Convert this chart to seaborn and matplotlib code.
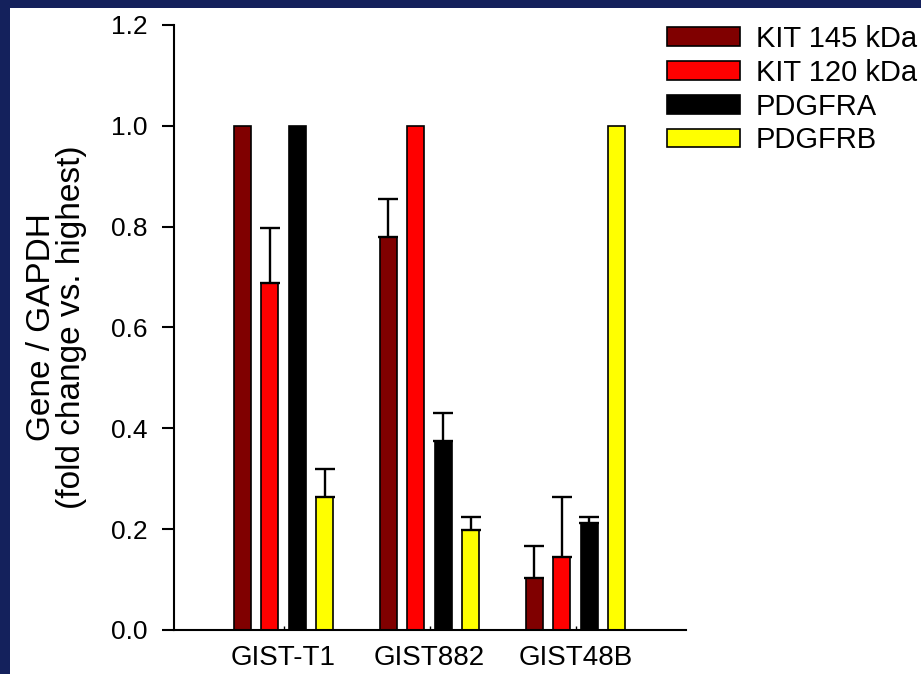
import numpy as np
import pandas as pd
import matplotlib
matplotlib.use("Agg")
import matplotlib.pyplot as plt
from matplotlib.patches import Rectangle
import seaborn as sns

# values (fold change vs. highest, upper SD only)
cells = ["GIST-T1", "GIST882", "GIST48B"]
genes = ["KIT 145 kDa", "KIT 120 kDa", "PDGFRA", "PDGFRB"]
kit145 = [1.0, 0.780, 0.103]
kit120 = [0.688, 1.0, 0.145]
pdgfra = [1.0, 0.375, 0.212]
pdgfrb = [0.264, 0.199, 1.0]
kit145_err = [0.0, 0.074, 0.063]
kit120_err = [0.109, 0.0, 0.118]
pdgfra_err = [0.0, 0.056, 0.013]
pdgfrb_err = [0.056, 0.026, 0.0]
colors = ["#800000", "#ff0000", "#000000", "#ffff00"]

values = [kit145, kit120, pdgfra, pdgfrb]
errors = [kit145_err, kit120_err, pdgfra_err, pdgfrb_err]
df = pd.DataFrame({
    "cell": np.tile(cells, len(genes)),
    "gene": np.repeat(genes, len(cells)),
    "value": np.concatenate(values),
})

sns.set_style("ticks")
plt.rcParams["font.family"] = ["Liberation Sans", "DejaVu Sans"]
plt.rcParams.update({"text.color": "black", "axes.labelcolor": "black",
                     "xtick.color": "black", "ytick.color": "black",
                     "axes.edgecolor": "black"})

fig = plt.figure(figsize=(9.21, 6.74), dpi=100)
fig.patch.set_facecolor("#14215c")
# white slide panel inside the dark blue border
fig.add_artist(Rectangle((10 / 921, 0), 1, 666 / 674, transform=fig.transFigure,
                         facecolor="white", edgecolor="none", zorder=0))
ax = fig.add_axes([0.189, 0.0653, 0.556, 0.8977])
ax.set_facecolor("none")

sns.barplot(data=df, x="cell", y="value", hue="gene", hue_order=genes,
            palette=colors, width=0.753, gap=0.38, errorbar=None,
            edgecolor="black", linewidth=1.2, saturation=1, ax=ax)

# upper error bars only
for cont, err in zip(ax.containers, errors):
    xs = [p.get_x() + p.get_width() / 2 for p in cont]
    ys = [p.get_height() for p in cont]
    keep = [i for i, e in enumerate(err) if e > 0]
    ax.errorbar([xs[i] for i in keep], [ys[i] for i in keep],
                yerr=[[0] * len(keep), [err[i] for i in keep]],
                fmt="none", ecolor="black", elinewidth=1.7, capsize=7, capthick=1.7,
                zorder=1)

ax.set_ylim(0, 1.2)
ax.set_xlim(-0.75, 2.757)
ax.set_yticks(np.arange(0, 1.21, 0.2))
ax.set_yticklabels([f"{v:.1f}" for v in np.arange(0, 1.21, 0.2)])
ax.set_xlabel("")
ax.set_ylabel("Gene / GAPDH\n(fold change vs. highest)", fontsize=24, linespacing=0.95)
ax.yaxis.set_label_coords(-0.17, 0.5)

sns.despine(ax=ax)
for s in ["left", "bottom"]:
    ax.spines[s].set_linewidth(1.5)
ax.tick_params(axis="y", direction="out", length=9, width=1.5, labelsize=19, pad=10)
ax.tick_params(axis="x", direction="in", length=3, width=1, labelsize=20, pad=11)

sns.move_legend(ax, "upper left", bbox_to_anchor=(0.962, 1.0), title=None,
                frameon=False, fontsize=21, handlelength=2.5, handleheight=0.6,
                handletextpad=0.55, labelspacing=0.2, borderpad=0, borderaxespad=0)
for h in ax.get_legend().legend_handles:
    h.set_edgecolor("black")
    h.set_linewidth(1.2)

fig.savefig("out.png", dpi=100)
